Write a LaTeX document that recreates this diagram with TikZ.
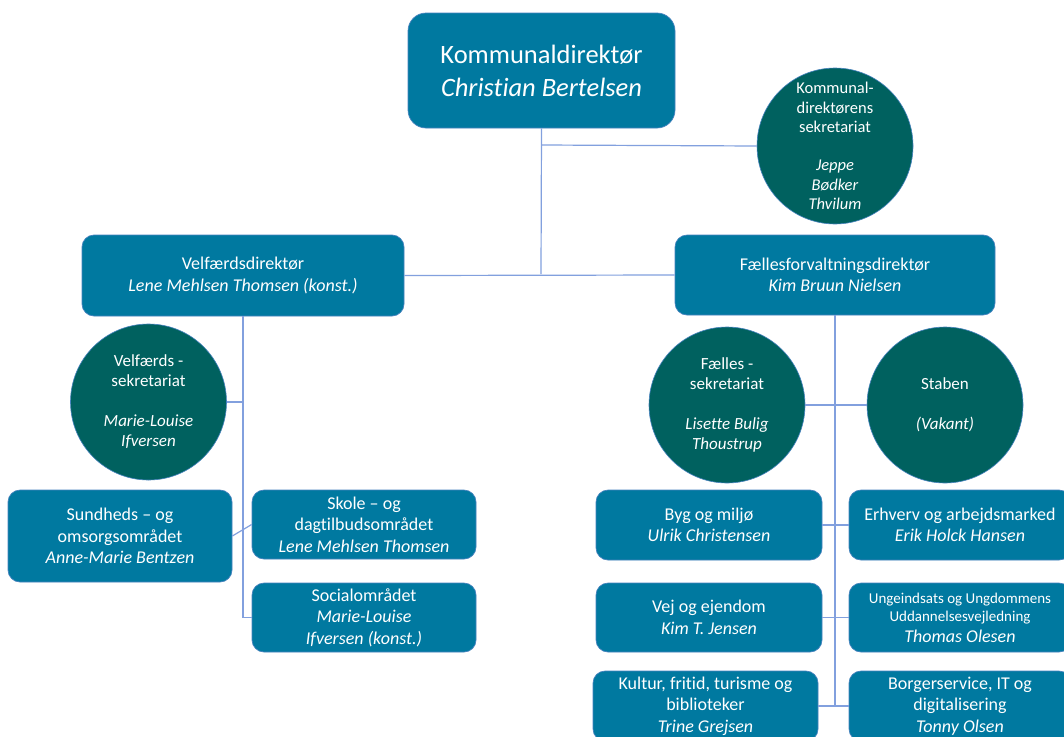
\documentclass[tikz,border=0pt]{standalone}
\usepackage{fontspec}
\setmainfont{Carlito}[RawFeature={-liga;-dlig;-clig}]
\definecolor{boxblue}{RGB}{0,121,160}
\definecolor{boxedge}{RGB}{70,130,190}
\definecolor{circgreen}{RGB}{0,97,95}
\definecolor{lineblue}{RGB}{130,160,222}
\newcommand{\smalltxt}{\fontsize{15}{17}\selectfont}
\begin{document}
\begin{tikzpicture}[x=1pt,y=-1pt,
  orgbox/.style={rectangle, rounded corners=12pt, fill=boxblue, draw=boxedge, line width=0.7pt,
    text=white, align=center, inner sep=0pt, font=\fontsize{18}{21.5}\selectfont},
  orgcirc/.style={circle, fill=circgreen, draw=boxedge, line width=0.6pt, minimum size=156pt,
    inner sep=0pt, text=white, align=center, font=\fontsize{17}{20}\selectfont},
  conn/.style={draw=lineblue, line width=1.2pt}]
\useasboundingbox (0,0) rectangle (1064,736);
\clip (0,0) rectangle (1064,736);
\fill[white] (0,0) rectangle (1064,736);

% nodes
\node[orgbox, rounded corners=18pt, minimum width=267pt, minimum height=115pt,
  font=\fontsize{26.5}{33}\selectfont] (top) at (541.5,70.5)
  {Kommunaldirektør\\\textit{Christian Bertelsen}};
\node[orgcirc, font=\fontsize{16.5}{19.3}\selectfont] (kcirc) at (835,146)
  {Kommunal-\\direktørens\\sekretariat\\~\\\textit{Jeppe}\\\textit{Bødker}\\\textit{Thvilum}};

\node[orgbox, minimum width=322pt, minimum height=81pt] (velf) at (243,275.5)
  {Velfærdsdirektør\\\textit{Lene Mehlsen Thomsen (konst.)}};
\node[orgbox, minimum width=320pt, minimum height=80pt] (fael) at (835,275)
  {Fællesforvaltningsdirektør\\\textit{Kim Bruun Nielsen}};

\node[orgcirc] (vcirc) at (148.5,402)
  {Velfærds -\\sekretariat\\~\\\textit{Marie-Louise}\\\textit{Ifversen}};
\node[orgcirc] (fcirc) at (727,405)
  {Fælles -\\sekretariat\\~\\\textit{Lisette Bulig}\\\textit{Thoustrup}};
\node[orgcirc] (stab) at (945,405)
  {Staben\\~\\\textit{(Vakant)}};

\node[orgbox, minimum width=224pt, minimum height=92pt] (sund) at (120,536)
  {Sundheds -- og\\omsorgsområdet\\\textit{Anne-Marie Bentzen}};
\node[orgbox, minimum width=224pt, minimum height=69pt] (skole) at (364,524.5)
  {Skole -- og\\dagtilbudsområdet\\\textit{Lene Mehlsen Thomsen}};
\node[orgbox, minimum width=224pt, minimum height=69pt] (social) at (364,617.5)
  {Socialområdet\\\textit{Marie-Louise}\\\textit{Ifversen (konst.)}};

\node[orgbox, minimum width=226pt, minimum height=70pt] (byg) at (709,525)
  {Byg og miljø\\\textit{Ulrik Christensen}};
\node[orgbox, minimum width=222pt, minimum height=70pt] (erh) at (960,525)
  {Erhverv og arbejdsmarked\\\textit{Erik Holck Hansen}};
\node[orgbox, minimum width=226pt, minimum height=69pt] (vej) at (709,617.5)
  {Vej og ejendom\\\textit{Kim T. Jensen}};
\node[orgbox, minimum width=222pt, minimum height=69pt] (ung) at (960,617.5)
  {\smalltxt Ungeindsats og Ungdommens\\[-3pt]\smalltxt Uddannelsesvejledning\\[-1pt]\textit{Thomas Olesen}};
\node[orgbox, minimum width=225pt, minimum height=70pt] (kult) at (705.5,706)
  {Kultur, fritid, turisme og\\biblioteker\\\textit{Trine Grejsen}};
\node[orgbox, minimum width=222pt, minimum height=70pt] (borg) at (960,706)
  {Borgerservice, IT og\\digitalisering\\\textit{Tonny Olsen}};

% connectors
\coordinate (j0) at (541,145);
\coordinate (j1) at (541,274);
\coordinate (jr) at (835,706);
\draw[conn] (top.south) -- (j1);
\draw[conn] (j0) -- (kcirc.west);
\draw[conn] (velf.east) -- (fael.west);
\draw[conn] (velf.south) |- (social.west);
\draw[conn] (vcirc.east) -- (vcirc.east -| velf.south);
\draw[conn] (sund.east) -- (skole.west);
\draw[conn] (fael.south) -- (jr);
\draw[conn] (fcirc.east) -- (stab.west);
\draw[conn] (byg.east) -- (erh.west);
\draw[conn] (vej.east) -- (ung.west);
\draw[conn] (kult.east) -- (borg.west);
\end{tikzpicture}
\end{document}
